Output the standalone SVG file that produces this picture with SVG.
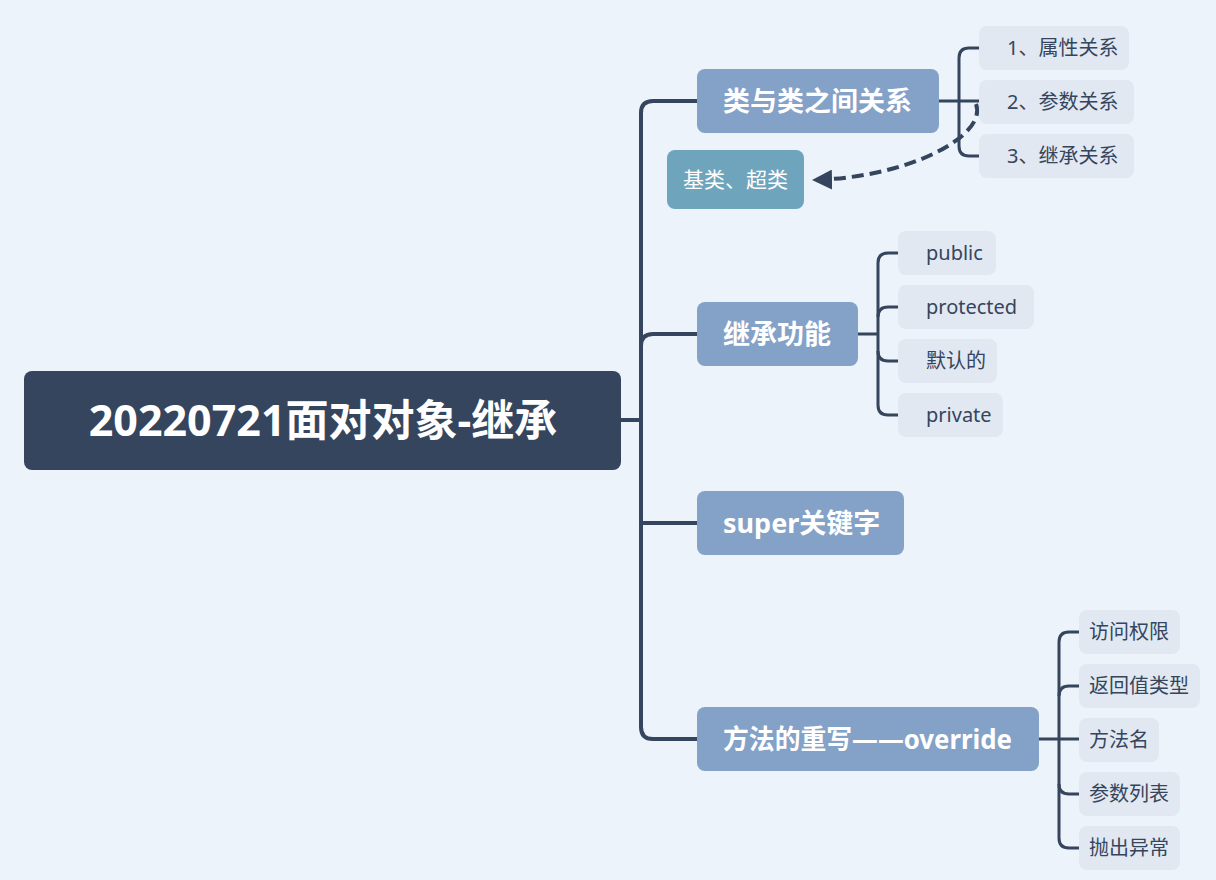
<svg xmlns="http://www.w3.org/2000/svg" width="1216" height="880" viewBox="0 0 1216 880">
<defs>
<marker id="ah" viewBox="0 0 10 10" refX="10" refY="5" markerWidth="5" markerHeight="5" orient="auto" markerUnits="strokeWidth">
<path d="M0,0 L10,5 L0,10 z" fill="#35455d"/>
</marker>
<style>
text{font-family:"Noto Sans","Noto Sans CJK SC",sans-serif}
.root rect{fill:#35455d}
.root text{fill:#fff;font-size:43px;font-weight:bold}
.main rect{fill:#84a2c8}
.main text{fill:#fff;font-size:27px;font-weight:bold}
.sub rect{fill:#e1e8f1}
.sub text{fill:#35455d;font-size:20px}
.float rect{fill:#6fa5bc}
.float text{fill:#fff;font-size:21px}
.ln{fill:none;stroke:#35455d;stroke-width:4;stroke-linecap:round}
.ls{fill:none;stroke:#35455d;stroke-width:3}
</style>
</defs>
<rect width="1216" height="880" fill="#edf3fa"/>
<g id="connectors">
<path class="ln" d="M621,420 H641"/>
<path class="ln" d="M697,101 H653 Q641,101 641,113 V727 Q641,739 653,739 H697"/>
<path class="ln" d="M641,346 Q641,334 653,334 H697"/>
<path class="ln" d="M641,523 H697"/>
<path class="ls" d="M939,101 H979"/>
<path class="ls" d="M979,48 H969 Q959,48 959,58 V146 Q959,156 969,156 H979"/>
<path class="ls" d="M858,334 H878"/>
<path class="ls" d="M898,253 H888 Q878,253 878,263 V405 Q878,415 888,415 H898"/>
<path class="ls" d="M878,317 Q878,307 888,307 H898"/>
<path class="ls" d="M878,351 Q878,361 888,361 H898"/>
<path class="ls" d="M1039,739 H1079"/>
<path class="ls" d="M1079,632 H1069 Q1059,632 1059,642 V838 Q1059,848 1069,848 H1079"/>
<path class="ls" d="M1059,696 Q1059,686 1069,686 H1079"/>
<path class="ls" d="M1059,784 Q1059,794 1069,794 H1079"/>
<path fill="none" stroke="#35455d" stroke-width="4" stroke-dasharray="12 6" d="M976,104 C988,135 910,178 812,180" marker-end="url(#ah)"/>
</g>
<g id="root" class="root"><rect x="24" y="371" width="597" height="99" rx="8"/><text x="323" y="436" text-anchor="middle">20220721面对对象-继承</text></g>
<g id="n1" class="main"><rect x="697" y="69" width="242" height="64" rx="8"/><text x="723" y="111">类与类之间关系</text></g>
<g id="n2" class="main"><rect x="697" y="302" width="161" height="64" rx="8"/><text x="723" y="344">继承功能</text></g>
<g id="n3" class="main"><rect x="697" y="491" width="207" height="64" rx="8"/><text x="723" y="533">super关键字</text></g>
<g id="n4" class="main"><rect x="697" y="707" width="342" height="64" rx="8"/><text x="723" y="749" textLength="289" lengthAdjust="spacingAndGlyphs">方法的重写——override</text></g>
<g id="f1" class="float"><rect x="667" y="150" width="137" height="59" rx="8"/><text x="735.5" y="187" text-anchor="middle">基类、超类</text></g>
<g id="s11" class="sub"><rect x="979" y="26" width="150" height="44" rx="8"/><text x="1007" y="55">1、属性关系</text></g>
<g id="s12" class="sub"><rect x="979" y="80" width="155" height="44" rx="8"/><text x="1007" y="109">2、参数关系</text></g>
<g id="s13" class="sub"><rect x="979" y="134" width="155" height="44" rx="8"/><text x="1007" y="163">3、继承关系</text></g>
<g id="s21" class="sub"><rect x="898" y="231" width="98" height="44" rx="8"/><text x="926" y="260">public</text></g>
<g id="s22" class="sub"><rect x="898" y="285" width="136" height="44" rx="8"/><text x="926" y="314">protected</text></g>
<g id="s23" class="sub"><rect x="898" y="339" width="99" height="44" rx="8"/><text x="926" y="368">默认的</text></g>
<g id="s24" class="sub"><rect x="898" y="393" width="105" height="44" rx="8"/><text x="926" y="422">private</text></g>
<g id="s41" class="sub"><rect x="1079" y="610" width="101" height="44" rx="8"/><text x="1089" y="639">访问权限</text></g>
<g id="s42" class="sub"><rect x="1079" y="664" width="121" height="44" rx="8"/><text x="1089" y="693">返回值类型</text></g>
<g id="s43" class="sub"><rect x="1079" y="718" width="80" height="44" rx="8"/><text x="1089" y="747">方法名</text></g>
<g id="s44" class="sub"><rect x="1079" y="772" width="101" height="44" rx="8"/><text x="1089" y="801">参数列表</text></g>
<g id="s45" class="sub"><rect x="1079" y="826" width="101" height="44" rx="8"/><text x="1089" y="855">抛出异常</text></g>
</svg>
